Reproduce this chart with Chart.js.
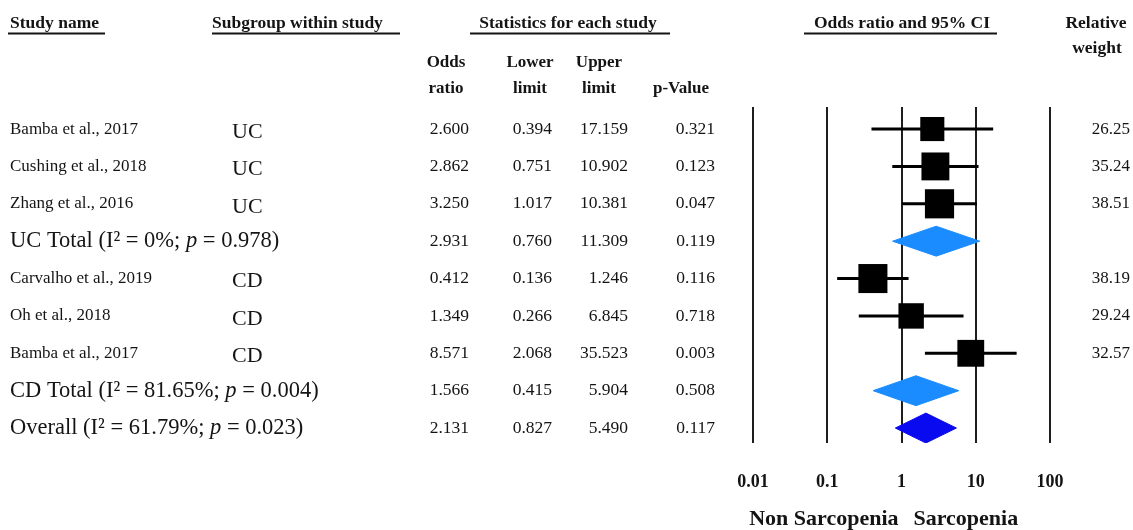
<!DOCTYPE html>
<html><head><meta charset="utf-8">
<script src="https://cdn.jsdelivr.net/npm/chart.js@4.4.1/dist/chart.umd.min.js"></script>
<style>html,body{margin:0;padding:0;background:#fff}#wrap{width:1133px;height:530px}</style>
</head><body><div id="wrap"><canvas id="c" width="1133" height="530"></canvas></div>
<script>
// ---------- data ----------
const rowLabels = ["Bamba et al., 2017","Cushing et al., 2018","Zhang et al., 2016","UC Total (I² = 0%; p = 0.978)","Carvalho et al., 2019","Oh et al., 2018","Bamba et al., 2017","CD Total (I² = 81.65%; p = 0.004)","Overall (I² = 61.79%; p = 0.023)"];
const subgroups = ["UC","UC","UC","","CD","CD","CD","",""];
const rowType = ["study","study","study","subtotal","study","study","study","subtotal","overall"];
const oddsRatio = [2.600,2.862,3.250,2.931,0.412,1.349,8.571,1.566,2.131];
const lowerLimit = [0.394,0.751,1.017,0.760,0.136,0.266,2.068,0.415,0.827];
const upperLimit = [17.159,10.902,10.381,11.309,1.246,6.845,35.523,5.904,5.490];
const pValues = [0.321,0.123,0.047,0.119,0.116,0.718,0.003,0.508,0.117];
const relWeight = [26.25,35.24,38.51,null,38.19,29.24,32.57,null,null];
const xTicks = [0.01,0.1,1,10,100];
const favourLabels = ["Non Sarcopenia","Sarcopenia"];
const columnHeads = [["Odds","ratio"],["Lower","limit"],["Upper","limit"],["","p-Value"]];

// ---------- styles ----------
const SERIF = '"Liberation Serif","Times New Roman",serif';
const INK = '#141414';
const LIGHT_BLUE = '#1a8cff';
const DARK_BLUE = '#0a0af0';
const DIAMOND_HALF = 0.4;

const datasets = [];
// whiskers
rowType.forEach((t,i)=>{
  if(t!=='study') return;
  datasets.push({data:[{x:lowerLimit[i],y:i},{x:upperLimit[i],y:i}],showLine:true,borderColor:'#000',borderWidth:3,pointRadius:0,order:2});
});
// squares
const studyIdx = rowType.map((t,i)=>t==='study'?i:-1).filter(i=>i>=0);
datasets.push({
  data: studyIdx.map(i=>({x:oddsRatio[i],y:i})),
  pointStyle:'rect',
  pointRadius: studyIdx.map(i=>4.7*Math.sqrt(relWeight[i])/Math.SQRT2),
  backgroundColor:'#000',borderWidth:0,order:0
});
// diamonds
rowType.forEach((t,i)=>{
  if(t==='study') return;
  const col = t==='overall'?DARK_BLUE:LIGHT_BLUE;
  datasets.push({
    data:[{x:lowerLimit[i],y:i},{x:oddsRatio[i],y:i-DIAMOND_HALF},{x:upperLimit[i],y:i},{x:oddsRatio[i],y:i+DIAMOND_HALF},{x:lowerLimit[i],y:i}],
    showLine:true,fill:'shape',borderColor:col,backgroundColor:col,borderWidth:1,pointRadius:0,tension:0,order:1
  });
});

function drawRich(ctx,text,x,y,size){
  const parts = text.split(/(\bp\b)/);
  let cx = x;
  parts.forEach(p=>{
    ctx.font = (p==='p'?'italic ':'') + size+'px '+SERIF;
    ctx.fillText(p,cx,y);
    cx += ctx.measureText(p).width;
  });
}

const textPlugin = {
  id:'forestText',
  afterDraw(chart){
    const ctx = chart.ctx, ys = chart.scales.y, xs = chart.scales.x;
    ctx.save();
    ctx.fillStyle = INK; ctx.strokeStyle = INK; ctx.textBaseline='middle';
    // main headers
    ctx.font = 'bold 17.5px '+SERIF;
    ctx.textAlign='left';
    ctx.fillText('Study name',10,23);
    ctx.fillText('Subgroup within study',212,23);
    ctx.textAlign='center';
    ctx.fillText('Statistics for each study',568,23);
    ctx.fillText('Odds ratio and 95% CI',902,23);
    ctx.fillText('Relative',1096,23);
    ctx.fillText('weight',1097,48);
    ctx.lineWidth=2;
    [[8,105],[212,400],[470,670],[804,997]].forEach(([a,b])=>{ctx.beginPath();ctx.moveTo(a,33.5);ctx.lineTo(b,33.5);ctx.stroke();});
    // column heads
    const headCx = [446,530,599,681];
    ctx.font = 'bold 17px '+SERIF;
    columnHeads.forEach((h,k)=>{ ctx.fillText(h[0],headCx[k],63); ctx.fillText(h[1],headCx[k],89); });
    // rows
    const colRight = [469,552,628,715];
    rowLabels.forEach((lab,i)=>{
      const y = ys.getPixelForValue(i);
      ctx.textAlign='left';
      if(rowType[i]==='study'){
        ctx.font = '17px '+SERIF;
        ctx.fillText(lab,10,y);
        ctx.font = '22px '+SERIF;
        ctx.fillText(subgroups[i],232,y+3);
      } else {
        drawRich(ctx,lab,10,y,22.5);
      }
      ctx.font = '17.5px '+SERIF;
      ctx.textAlign='right';
      [oddsRatio[i],lowerLimit[i],upperLimit[i],pValues[i]].forEach((v,k)=>ctx.fillText(v.toFixed(3),colRight[k],y));
      if(relWeight[i]!=null){ ctx.font='17px '+SERIF; ctx.fillText(relWeight[i].toFixed(2),1130,y); }
    });
    // favour labels
    const x1 = xs.getPixelForValue(1);
    ctx.font = 'bold 22px '+SERIF;
    ctx.textAlign='right'; ctx.fillText(favourLabels[0],x1-3,519);
    ctx.textAlign='left'; ctx.fillText(favourLabels[1],x1+12,519);
    ctx.restore();
  }
};

new Chart(document.getElementById('c'),{
  type:'scatter',
  data:{datasets},
  options:{
    responsive:false,animation:false,
    plugins:{legend:{display:false},tooltip:{enabled:false}},
    layout:{padding:{left:753,right:83,top:107,bottom:0}},
    scales:{
      x:{type:'logarithmic',min:0.01,max:100,
        afterBuildTicks:s=>{s.ticks = xTicks.map(v=>({value:v}));},
        afterFit:s=>{s.height=87;},
        grid:{color:'#1e1e1e',lineWidth:2,drawTicks:false},
        border:{display:false},
        ticks:{padding:29,color:INK,autoSkip:false,maxRotation:0,font:{family:SERIF,size:18,weight:'bold'},callback:v=>String(v)}
      },
      y:{type:'linear',display:false,reverse:true,min:-0.59,max:8.4}
    }
  },
  plugins:[textPlugin]
});
</script>
</body></html>
